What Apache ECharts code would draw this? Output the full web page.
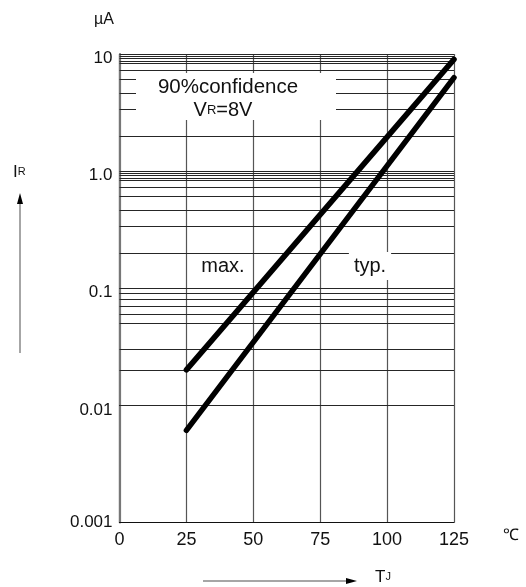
<!DOCTYPE html>
<html>
<head>
<meta charset="utf-8">
<script src="https://cdn.jsdelivr.net/npm/echarts@6/dist/echarts.min.js"></script>
<style>html,body{margin:0;padding:0;background:#fff}#c{width:526px;height:587px}</style>
</head>
<body>
<div id="c"></div>
<script>
// ---- data ----
const temps = [25, 125];                 // T_J, °C
const maxCurrent = [0.0201, 9.0];        // I_R max., µA
const typCurrent = [0.00612, 6.28];      // I_R typ., µA
const xTicks = [0, 25, 50, 75, 100, 125];
const yTickValues = [0.001, 0.01, 0.1, 1, 10];
const yTickText = ['0.001', '0.01', '0.1', '1.0', '10'];
const decadeTops = [10, 1, 0.1, 0.01];
const gridFactors = [1, 0.96, 0.92, 0.87, 0.83, 0.73, 0.61, 0.46, 0.34, 0.2];

const FONT = 'Liberation Sans, Arial, sans-serif';

const gridValues = [];
decadeTops.forEach(d => gridFactors.forEach(f => gridValues.push(d * f)));

const chart = echarts.init(document.getElementById('c'), null, {renderer: 'canvas'});
chart.setOption({
  animation: false,
  backgroundColor: '#fff',
  grid: {left: 119.5, right: 72, top: 54, bottom: 64.5, containLabel: false, outerBoundsMode: 'none'},
  xAxis: {
    type: 'value', min: xTicks[0], max: xTicks[xTicks.length - 1], interval: 25,
    axisLine: {show: true, onZero: false, lineStyle: {color: '#111', width: 1.2}},
    axisTick: {show: false},
    axisLabel: {margin: 9, color: '#111', fontSize: 18, fontFamily: FONT,
      formatter: v => xTicks.indexOf(v) >= 0 ? String(v) : ''},
    splitLine: {show: true, lineStyle: {color: '#555', width: 1.2}}
  },
  yAxis: {
    type: 'log', logBase: 10, min: yTickValues[0], max: yTickValues[yTickValues.length - 1],
    axisLine: {show: true, lineStyle: {color: '#777', width: 2.2}},
    axisTick: {show: false},
    splitLine: {show: false},
    axisLabel: {
      margin: 7, color: '#111', fontFamily: FONT,
      formatter: v => {
        const e = Math.round(Math.log10(v));
        const t = yTickText[e + 3];
        return e === -3 ? '{b|' + t + '}' : '{a|' + t + '}';
      },
      rich: {
        a: {fontSize: 17, fontFamily: FONT, color: '#111', padding: [9, 0, 0, 0]},
        b: {fontSize: 17, fontFamily: FONT, color: '#111'}
      }
    }
  },
  series: [
    {
      type: 'line', data: [], z: 1, silent: true,
      markLine: {
        silent: true, symbol: 'none', animation: false,
        label: {show: false},
        lineStyle: {color: '#262626', width: 1, type: 'solid'},
        data: gridValues.map(v => ({yAxis: v}))
      }
    },
    {
      name: 'max.', type: 'line', z: 5, clip: false, symbol: 'none',
      data: temps.map((t, i) => [t, maxCurrent[i]]),
      lineStyle: {color: '#000', width: 5.5, cap: 'round'}
    },
    {
      name: 'typ.', type: 'line', z: 5, clip: false, symbol: 'none',
      data: temps.map((t, i) => [t, typCurrent[i]]),
      lineStyle: {color: '#000', width: 5.5, cap: 'round'}
    }
  ],
  graphic: [
    {type: 'rect', z: 10, shape: {x: 136, y: 73, width: 200, height: 47}, style: {fill: '#fff'}},
    {type: 'text', z: 11, x: 228, y: 87, style: {text: '90%confidence', font: '20.5px ' + FONT, fill: '#111', align: 'center', verticalAlign: 'middle'}},
    {type: 'text', z: 11, x: 223, y: 110, style: {
      text: '{a|V}{b|R}{a|=8V}', align: 'center', verticalAlign: 'middle',
      rich: {a: {fontSize: 20, fontFamily: FONT, fill: '#111'}, b: {fontSize: 13, fontFamily: FONT, fill: '#111'}}}},
    {type: 'text', z: 11, x: 223, y: 266, style: {text: 'max.', font: '20px ' + FONT, fill: '#111', align: 'center', verticalAlign: 'middle'}},
    {type: 'text', z: 11, x: 370, y: 266, style: {text: 'typ.', font: '20px ' + FONT, fill: '#111', align: 'center', verticalAlign: 'middle',
      backgroundColor: '#fff', padding: [4, 5, 4, 5]}},
    {type: 'text', z: 11, x: 104, y: 20, style: {text: 'µA', font: '16px ' + FONT, fill: '#111', align: 'center', verticalAlign: 'middle'}},
    {type: 'text', z: 11, x: 13, y: 172, style: {
      text: '{a|I}{b|R}', align: 'left', verticalAlign: 'middle',
      rich: {a: {fontSize: 17, fontFamily: FONT, fill: '#111'}, b: {fontSize: 11, fontFamily: FONT, fill: '#111'}}}},
    {type: 'line', z: 11, shape: {x1: 20, y1: 202, x2: 20, y2: 353}, style: {stroke: '#888', lineWidth: 1.5}},
    {type: 'polygon', z: 11, shape: {points: [[20, 193], [17, 204], [23, 204]]}, style: {fill: '#000'}},
    {type: 'line', z: 11, shape: {x1: 203, y1: 581, x2: 349, y2: 581}, style: {stroke: '#888', lineWidth: 1.5}},
    {type: 'polygon', z: 11, shape: {points: [[357, 581], [346, 578], [346, 584]]}, style: {fill: '#000'}},
    {type: 'text', z: 11, x: 375, y: 577, style: {
      text: '{a|T}{b|J}', align: 'left', verticalAlign: 'middle',
      rich: {a: {fontSize: 17, fontFamily: FONT, fill: '#111'}, b: {fontSize: 11, fontFamily: FONT, fill: '#111'}}}},
    {type: 'text', z: 11, x: 511, y: 536, style: {text: '℃', font: '16px ' + FONT, fill: '#111', align: 'center', verticalAlign: 'middle'}}
  ]
});
</script>
</body>
</html>
